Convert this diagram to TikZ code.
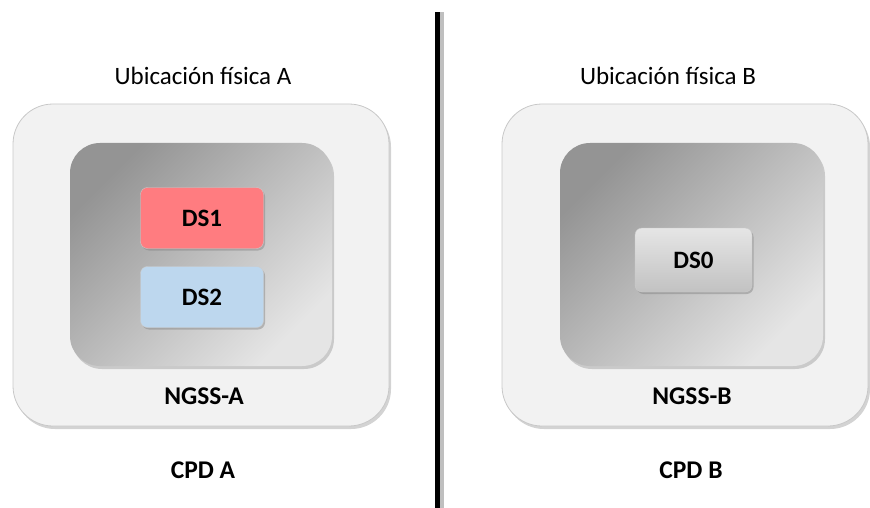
\documentclass[tikz,border=0pt]{standalone}
\usepackage{fontspec}
\setmainfont{Carlito}
\usetikzlibrary{shadows}
\definecolor{outerfill}{HTML}{F2F2F2}
\definecolor{outerline}{HTML}{C8C8C8}
\definecolor{dsred}{HTML}{FF7C80}
\definecolor{dsblue}{HTML}{BDD7EE}
\tikzset{
  outerbox/.style={draw=outerline, line width=0.8pt, fill=outerfill, rounded corners=40pt,
    drop shadow={opacity=0.35, shadow xshift=2pt, shadow yshift=-3pt}},
  innerbox/.style={rounded corners=30pt, top color=black!42, bottom color=black!10, shading angle=45,
    drop shadow={opacity=0.35, shadow xshift=2pt, shadow yshift=-3pt}},
  dsbox/.style={rounded corners=7pt, minimum width=123pt, minimum height=61pt, draw=black!20, line width=0.4pt,
    font=\fontsize{25}{28}\selectfont\bfseries,
    drop shadow={opacity=0.45, shadow xshift=1.5pt, shadow yshift=-2pt}},
  loc/.style={font=\fontsize{25}{29}\selectfont},
  lbl/.style={font=\fontsize{25.5}{29}\selectfont\bfseries},
}
\begin{document}
\begin{tikzpicture}[x=1pt,y=-1pt]
\useasboundingbox (0,0) rectangle (870,508);
% left site
\node[outerbox, minimum width=376pt, minimum height=322pt] (outA) at (201,265) {};
\node[innerbox, minimum width=262pt, minimum height=223pt] (inA) at (201,254.5) {};
\node[dsbox, fill=dsred] (ds1) at (202,218) {DS1};
\node[dsbox, fill=dsblue] (ds2) at (202,297) {DS2};
\node[loc] (locA) at (203,76) {Ubicación física A};
\node[lbl] (ngssA) at (204,396) {NGSS-A};
\node[lbl] (cpdA) at (203,470) {CPD A};
% divider
\fill[black!25] (439,12) rectangle (444,508);
\fill[black] (435,12) rectangle (439.5,508);
% right site
\node[outerbox, minimum width=366pt, minimum height=322pt] (outB) at (685,265) {};
\node[innerbox, minimum width=263pt, minimum height=223pt] (inB) at (691.5,254.5) {};
\node[dsbox, minimum width=117pt, minimum height=64pt, top color=black!10, bottom color=black!24] (ds0) at (693.5,260) {DS0};
\node[loc] (locB) at (668,76) {Ubicación física B};
\node[lbl] (ngssB) at (692,396) {NGSS-B};
\node[lbl] (cpdB) at (691,470) {CPD B};
\end{tikzpicture}
\end{document}
